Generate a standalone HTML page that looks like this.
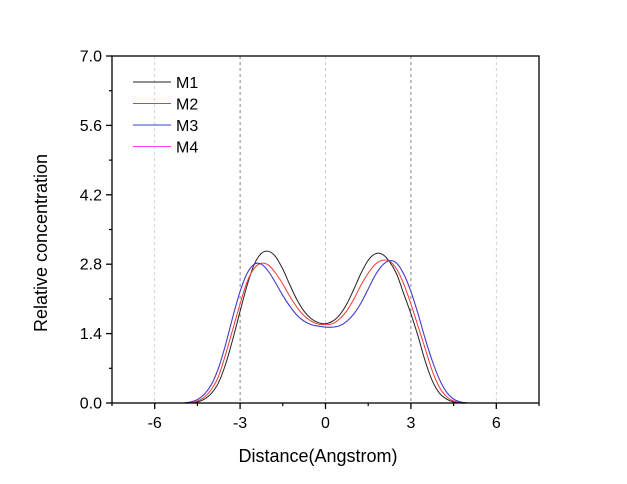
<!DOCTYPE html>
<html><head><meta charset="utf-8"><style>
html,body{margin:0;padding:0;background:#fff;}
svg{display:block;font-family:"Liberation Sans",Arial,sans-serif;}
</style></head><body>
<svg id="chart" width="627" height="484" xmlns="http://www.w3.org/2000/svg">
<g id="grid"></g>
<g id="series"></g>
<rect x="112" y="56" width="427" height="347" fill="none" stroke="#000" stroke-width="1.3"/>
<g id="axes"></g>
<text transform="translate(47,243) rotate(-90)" text-anchor="middle" font-size="18">Relative concentration</text>
<text x="318" y="462" text-anchor="middle" font-size="18">Distance(Angstrom)</text>
<g id="legend"></g>
</svg>
<script>
const xs = [-5,-4.75,-4.5,-4.25,-4,-3.75,-3.5,-3.25,-3,-2.75,-2.5,-2.25,-2,-1.75,-1.5,-1.25,-1,-0.75,-0.5,-0.25,0,0.25,0.5,0.75,1,1.25,1.5,1.75,2,2.25,2.5,2.75,3,3.25,3.5,3.75,4,4.25,4.5,4.75,5];
const m1 = [0,0,0.02,0.08,0.2,0.42,0.8,1.3,1.85,2.38,2.8,3.02,3.06,2.95,2.7,2.38,2.08,1.85,1.7,1.62,1.6,1.65,1.78,2.0,2.3,2.62,2.88,3.01,3.0,2.85,2.6,2.2,1.8,1.35,0.85,0.45,0.2,0.08,0.02,0,0];
const m2 = [0,0.01,0.04,0.12,0.28,0.55,1.0,1.5,2.0,2.45,2.72,2.82,2.78,2.62,2.4,2.15,1.93,1.76,1.65,1.59,1.58,1.6,1.7,1.86,2.1,2.38,2.62,2.8,2.88,2.86,2.7,2.4,2.0,1.55,1.1,0.65,0.32,0.13,0.04,0.01,0];
const m3 = [0,0.02,0.07,0.18,0.38,0.72,1.2,1.75,2.25,2.62,2.8,2.8,2.65,2.42,2.17,1.95,1.77,1.65,1.58,1.55,1.53,1.53,1.56,1.65,1.8,2.02,2.3,2.58,2.78,2.87,2.82,2.6,2.25,1.8,1.3,0.85,0.48,0.22,0.08,0.02,0];
const m4 = [0,0.02,0.07,0.18,0.38,0.72,1.2,1.75,2.25,2.62,2.8,2.8,2.65,2.42,2.17,1.95,1.77,1.65,1.58,1.55,1.53,1.53,1.56,1.65,1.8,2.02,2.3,2.58,2.78,2.87,2.82,2.6,2.25,1.8,1.3,0.85,0.48,0.22,0.08,0.02,0];
const seriesNames = ["M1","M2","M3","M4"];
const xTicks = [-6,-3,0,3,6];
const yTicks = [0,1.4,2.8,4.2,5.6,7.0];
const yTickLabels = ["0.0","1.4","2.8","4.2","5.6","7.0"];

const NS="http://www.w3.org/2000/svg";
const X0=112,X1=539,Y0=403,Y1=56, XMIN=-7.5,XMAX=7.5,YMIN=0,YMAX=7;
const sx=v=>X0+(v-XMIN)/(XMAX-XMIN)*(X1-X0);
const sy=v=>Y0-(v-YMIN)/(YMAX-YMIN)*(Y0-Y1);
function mk(tag,attrs,parent){const e=document.createElementNS(NS,tag);for(const k in attrs)e.setAttribute(k,attrs[k]);parent.appendChild(e);return e;}
const grid=document.getElementById('grid'),axes=document.getElementById('axes'),ser=document.getElementById('series'),leg=document.getElementById('legend');
xTicks.forEach(t=>{
  const dark=Math.abs(t)===3;
  const g=mk('line',{x1:sx(t),x2:sx(t),y1:Y1,y2:Y0,stroke:dark?'#666':'#c4c4c4','stroke-width':0.8,'stroke-dasharray':'3,3'},grid);
  
  
  const tk=mk('line',{x1:sx(t),x2:sx(t),y1:Y0,y2:Y0+6,stroke:'#000','stroke-width':1.3},axes);
  
  
  const lb=mk('text',{x:sx(t),y:Y0+25,'text-anchor':'middle','font-size':16},axes);
  lb.textContent=String(t);
  
  
});
for(let t=-7.5;t<=7.5;t+=1.5){ if(xTicks.includes(t))continue;
  const m=mk('line',{x1:sx(t),x2:sx(t),y1:Y0,y2:Y0+3,stroke:'#000','stroke-width':1.2},axes);
  
  
}
yTicks.forEach((t,i)=>{
  const tk=mk('line',{x1:X0-6,x2:X0,y1:sy(t),y2:sy(t),stroke:'#000','stroke-width':1.3},axes);
  
  
  const lb=mk('text',{x:X0-10,y:sy(t)+5.5,'text-anchor':'end','font-size':16},axes);
  lb.textContent=yTickLabels[i];
  
  
  if(i<yTicks.length-1){
    const m=mk('line',{x1:X0-3,x2:X0,y1:sy(t+0.7),y2:sy(t+0.7),stroke:'#000','stroke-width':1.2},axes);
    
    
  }
});
function pathFor(ys){
  const p=xs.map((x,i)=>[sx(x),sy(ys[i])]);
  let d='M'+p[0][0]+','+p[0][1];
  for(let i=0;i<p.length-1;i++){
    const p0=p[Math.max(0,i-1)],p1=p[i],p2=p[i+1],p3=p[Math.min(p.length-1,i+2)];
    const c1=[p1[0]+(p2[0]-p0[0])/6,p1[1]+(p2[1]-p0[1])/6],c2=[p2[0]-(p3[0]-p1[0])/6,p2[1]-(p3[1]-p1[1])/6];
    d+=' C'+c1+' '+c2+' '+p2;
  }
  return d;
}
const colors=['#222222','#f03a30','#3545c8','#ff40ff'];
const data=[m1,m2,m3,m4];
[3,0,1,2].forEach(i=>{
  const pth=mk('path',{d:pathFor(data[i]),fill:'none',stroke:colors[i],'stroke-width':1},ser);
  
  
});
seriesNames.forEach((n,i)=>{
  const y=82+i*21.5;
  const l=mk('line',{x1:133,x2:171,y1:y,y2:y,stroke:colors[i],'stroke-width':0.9},leg);
  
  
  const t=mk('text',{x:176,y:y+6,'font-size':16},leg);
  t.textContent=n;
  
  
});
</script>
</body></html>
